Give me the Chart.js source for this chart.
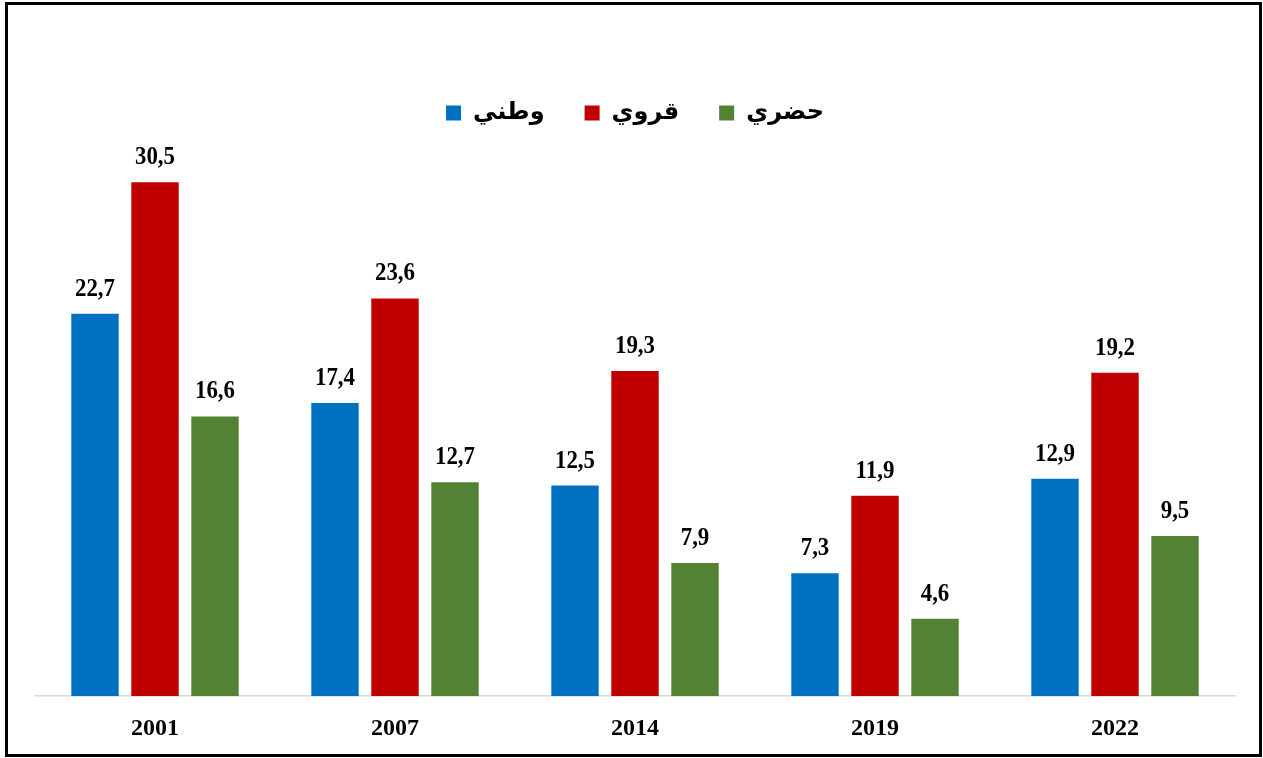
<!DOCTYPE html>
<html>
<head>
<meta charset="utf-8">
<script src="https://cdn.jsdelivr.net/npm/chart.js@4"></script>
<style>
    body { margin: 0; background: #fff; }
    #frame {
        position: absolute;
        left: 5px;
        top: 2px;
        width: 1251px;
        height: 749px;
        border: 3px solid #000;
    }
</style>
</head>
<body>
<div id="frame">
    <canvas id="povertyChart" width="1251" height="749"></canvas>
</div>
<script>
const years = ['2001', '2007', '2014', '2019', '2022'];
const national = [22.7, 17.4, 12.5, 7.3, 12.9];
const rural = [30.5, 23.6, 19.3, 11.9, 19.2];
const urban = [16.6, 12.7, 7.9, 4.6, 9.5];

const seriesNames = ['وطني', 'قروي', 'حضري'];
const seriesColors = ['#0070C0', '#C00000', '#548235'];

const fontFamily = "'Times New Roman', 'Liberation Serif', 'DejaVu Sans', serif";

// draws the value above each bar, with a decimal comma (slightly condensed like the original)
const valueLabels = {
    id: 'valueLabels',
    afterDatasetsDraw(chart) {
        const ctx = chart.ctx;
        const squeeze = 0.88;
        ctx.save();
        ctx.font = 'bold 26px ' + fontFamily;
        ctx.fillStyle = '#000';
        ctx.textAlign = 'center';
        ctx.textBaseline = 'alphabetic';
        ctx.scale(squeeze, 1);
        chart.data.datasets.forEach((dataset, i) => {
            const meta = chart.getDatasetMeta(i);
            meta.data.forEach((bar, j) => {
                const text = dataset.data[j].toFixed(1).replace('.', ',');
                ctx.fillText(text, bar.x / squeeze, bar.y - 18);
            });
        });
        ctx.restore();
    }
};

new Chart(document.getElementById('povertyChart'), {
    type: 'bar',
    data: {
        labels: years,
        datasets: [
            { label: seriesNames[0], data: national, backgroundColor: seriesColors[0] },
            { label: seriesNames[1], data: rural, backgroundColor: seriesColors[1] },
            { label: seriesNames[2], data: urban, backgroundColor: seriesColors[2] }
        ]
    },
    options: {
        responsive: false,
        animation: false,
        categoryPercentage: 0.75,
        barPercentage: 0.79,
        layout: {
            padding: { top: 56, left: 27, right: 24, bottom: 1 }
        },
        plugins: {
            legend: {
                position: 'top',
                labels: {
                    boxWidth: 15,
                    boxHeight: 15,
                    padding: 40,
                    color: '#000',
                    font: { family: fontFamily, size: 24, weight: 'bold' }
                }
            },
            tooltip: { enabled: false }
        },
        scales: {
            x: {
                grid: { display: false },
                border: { display: true, color: '#d9d9d9', width: 1.5 },
                ticks: {
                    padding: 10,
                    color: '#000',
                    font: { family: fontFamily, size: 24, weight: 'bold' }
                }
            },
            y: {
                display: false,
                min: 0,
                max: 33.3
            }
        }
    },
    plugins: [valueLabels]
});
</script>
</body>
</html>
